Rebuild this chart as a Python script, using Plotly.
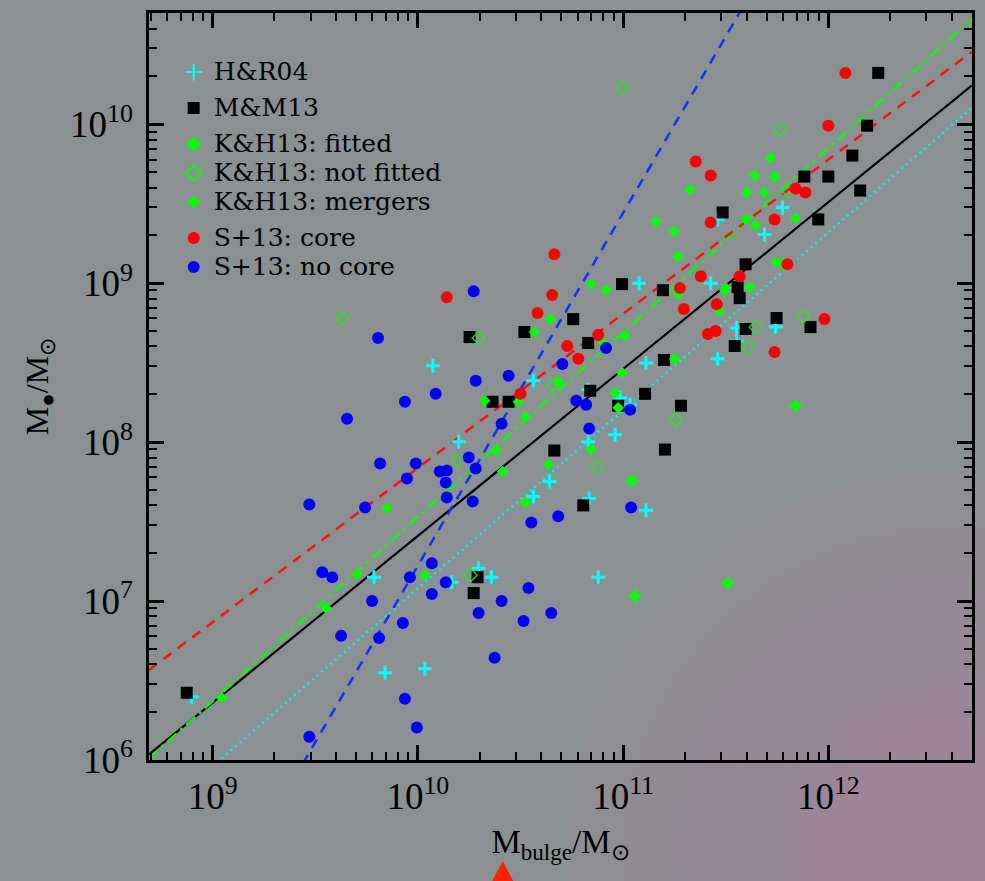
import numpy as np
import plotly.graph_objects as go

# ---------------- data (log10 values) ----------------
hr04_logmb = [8.898, 10.073, 10.199, 9.786, 9.840, 10.034, 10.165, 10.296, 10.359, 10.879,
              10.563, 10.830, 10.985, 11.034, 11.112, 11.461, 10.961, 10.830, 10.641, 10.563,
              10.835, 11.112, 11.078, 11.427, 11.461, 11.777, 11.689, 11.553, 11.743, 11.553]
hr04_logbh = [6.398, 8.480, 8.003, 7.150, 6.549, 6.574, 7.119, 7.207, 7.150, 7.150,
              8.386, 8.329, 8.279, 8.235, 8.498, 8.524, 8.047, 8.003, 7.752, 7.658,
              7.646, 7.571, 9.000, 9.000, 9.401, 9.476, 9.307, 8.718, 8.724, 8.636]

mm13_logmb = [8.874, 10.252, 10.291, 10.272, 10.995, 11.194, 10.757, 10.519, 10.830, 10.364,
              10.442, 11.199, 11.107, 10.976, 10.840, 11.282, 10.665, 11.204, 10.806, 11.485,
              11.883, 12.000, 12.117, 12.155, 12.189, 12.243, 11.951, 11.597, 11.558, 11.568,
              11.597, 11.544, 11.748, 11.913]
mm13_logbh = [6.423, 8.661, 7.150, 7.050, 8.994, 8.956, 8.774, 8.693, 8.624, 8.254,
              8.254, 8.517, 8.304, 8.229, 8.323, 8.229, 7.947, 7.953, 7.602, 9.445,
              9.671, 9.671, 9.803, 9.583, 9.991, 10.323, 9.401, 9.119, 8.975, 8.906,
              8.712, 8.605, 8.781, 8.724]

kh_fit_logmb = [9.044, 9.553, 9.704, 10.034, 9.850, 10.845, 10.917, 10.665, 10.646, 10.568,
                11.267, 11.471, 11.495, 11.010, 10.903, 10.995, 10.684, 10.325, 10.490, 10.524,
                10.961, 10.976, 11.252, 10.379, 10.413, 10.636, 10.845, 10.524, 11.160, 11.248,
                11.267, 11.325, 11.718, 11.641, 11.738, 11.602, 11.689, 11.597, 11.646, 11.840,
                11.748, 11.500, 11.617, 12.083]
kh_fit_logbh = [6.392, 6.956, 7.169, 7.163, 7.583, 8.994, 8.956, 8.931, 8.774, 8.693,
                8.931, 8.824, 8.956, 8.668, 8.624, 8.436, 8.379, 8.260, 8.254, 8.160,
                8.310, 8.216, 8.524, 7.947, 7.815, 7.859, 7.953, 7.621, 9.389, 9.326,
                9.169, 9.589, 9.790, 9.677, 9.671, 9.571, 9.571, 9.401, 9.364, 9.408,
                9.132, 8.969, 8.975, 10.323]

kh_nofit_logmb = [9.631, 10.194, 10.296, 10.257, 10.995, 10.660, 11.257, 10.874, 11.767, 11.806,
                  11.786, 12.083, 11.646, 11.607, 11.879]
kh_nofit_logbh = [8.781, 7.884, 8.655, 7.163, 10.229, 8.361, 8.141, 7.846, 9.966, 9.577,
                  9.119, 10.323, 8.724, 8.599, 8.793]

kh_merg_logmb = [11.044, 11.058, 11.510, 11.840]
kh_merg_logbh = [7.759, 7.031, 7.113, 8.229]

s13c_logmb = [10.141, 11.354, 11.427, 11.427, 10.665, 11.379, 11.277, 10.655, 10.583, 10.728,
              10.782, 10.879, 10.500, 11.296, 11.456, 11.413, 11.451, 12.000, 11.888, 11.840,
              11.738, 11.568, 11.801, 12.083, 11.981, 11.738]
s13c_logbh = [8.912, 9.765, 9.677, 9.382, 9.182, 9.044, 8.969, 8.925, 8.812, 8.605,
              8.524, 8.674, 8.304, 8.837, 8.868, 8.680, 8.699, 9.991, 9.571, 9.596,
              9.401, 9.044, 9.119, 10.323, 8.774, 8.567]

s13n_logmb = [10.272, 9.806, 10.282, 10.087, 9.937, 9.655, 9.816, 9.990, 10.248, 10.107,
              10.141, 9.947, 10.136, 10.282, 10.141, 9.471, 9.743, 10.267, 9.534, 9.583,
              9.961, 10.068, 10.136, 10.068, 9.777, 9.927, 9.626, 9.811, 9.937, 9.995,
              9.471, 10.296, 10.442, 10.704, 10.917, 10.408, 10.772, 10.820, 10.835, 11.034,
              10.553, 10.684, 11.039, 10.539, 10.408, 10.515, 10.650, 10.374]
s13n_logbh = [8.950, 8.655, 8.386, 8.304, 8.254, 8.147, 7.865, 7.865, 7.903, 7.815,
              7.821, 7.771, 7.746, 7.834, 7.652, 7.608, 7.589, 7.627, 7.182, 7.150,
              7.150, 7.238, 7.119, 7.044, 7.000, 6.862, 6.781, 6.768, 6.386, 6.204,
              6.147, 6.925, 8.417, 8.492, 8.592, 8.116, 8.260, 8.235, 8.085, 8.204,
              7.495, 7.533, 7.589, 7.082, 7.000, 6.875, 6.925, 6.643]

# fitted relations: log Mbh = a + b * (log Mbulge - pivot)
rel_names = ["H&R04", "M&M13", "K&H13", "S+13 core", "S+13 no core"]
rel_a = [8.20, 8.46, 8.69, 9.27, 7.89]
rel_b = [1.12, 1.05, 1.16, 0.97, 2.22]
rel_pivot = [11.0, 11.0, 11.0, 11.477, 10.301]

x_log_range = [8.69, 12.70]
y_log_range = [6.0, 10.70]
tick_exps_x = [9, 10, 11, 12]
tick_exps_y = [6, 7, 8, 9, 10]

# ---------------- figure ----------------
fig = go.Figure()


def p10(v):
    return [10 ** t for t in v]


def minor_vals(lo, hi):
    out = []
    for e in range(int(np.floor(lo)) - 1, int(np.ceil(hi)) + 1):
        for m in range(2, 10):
            out.append(m * 10.0 ** e)
    return out


def lname(s):
    return '<span style="font-size:25px">' + s + '</span>'


# relation lines
line_styles = [
    dict(color="#00f0f0", width=2.5, dash="2px,4px"),
    dict(color="#000000", width=2.2, dash="solid"),
    dict(color="#00ff00", width=2.5, dash="12px,5px,3px,5px"),
    dict(color="#ff1010", width=2.5, dash="10px,8px"),
    dict(color="#1030ff", width=2.5, dash="10px,8px"),
]
for a, b, p, st in zip(rel_a, rel_b, rel_pivot, line_styles):
    lx = np.linspace(x_log_range[0], x_log_range[1], 50)
    ly = a + b * (lx - p)
    fig.add_trace(go.Scatter(x=10 ** lx, y=10 ** ly, mode="lines", line=st,
                             showlegend=False, hoverinfo="skip"))

fig.add_trace(go.Scatter(x=p10(hr04_logmb), y=p10(hr04_logbh), mode="markers", name=lname("H&amp;R04"),
                         legendgroup="g1",
                         marker=dict(symbol="cross-thin", size=10, color="#00ffff",
                                     line=dict(color="#00ffff", width=3))))
fig.add_trace(go.Scatter(x=p10(mm13_logmb), y=p10(mm13_logbh), mode="markers", name=lname("M&amp;M13"),
                         legendgroup="g2",
                         marker=dict(symbol="square", size=12, color="#000000", line=dict(width=0))))
fig.add_trace(go.Scatter(x=p10(kh_fit_logmb), y=p10(kh_fit_logbh), mode="markers",
                         name=lname("K&amp;H13: fitted"), legendgroup="g3",
                         marker=dict(symbol="diamond", size=9, color="#00ff00", line=dict(width=0))))
fig.add_trace(go.Scatter(x=p10(kh_nofit_logmb), y=p10(kh_nofit_logbh), mode="markers",
                         name=lname("K&amp;H13: not fitted"), legendgroup="g3",
                         marker=dict(symbol="diamond-open", size=10, color="#00ff00",
                                     line=dict(color="#00ff00", width=1.2))))
fig.add_trace(go.Scatter(x=p10(kh_merg_logmb), y=p10(kh_merg_logbh), mode="markers",
                         name=lname("K&amp;H13: mergers"), legendgroup="g3",
                         marker=dict(symbol="star-diamond", size=12, color="#00ff00", line=dict(width=0))))
fig.add_trace(go.Scatter(x=p10(s13c_logmb), y=p10(s13c_logbh), mode="markers",
                         name=lname("S+13: core"), legendgroup="g4",
                         marker=dict(symbol="circle", size=12, color="#ff0000", line=dict(width=0))))
fig.add_trace(go.Scatter(x=p10(s13n_logmb), y=p10(s13n_logbh), mode="markers",
                         name=lname("S+13: no core"), legendgroup="g4",
                         marker=dict(symbol="circle", size=12, color="#0000ff", line=dict(width=0))))

# soft pink glow in the lower right of the page background
shapes = []
for r in [0.46, 0.39, 0.33, 0.27, 0.21, 0.16, 0.11]:
    cx, cy = 0.97, -0.12
    shapes.append(dict(type="circle", xref="paper", yref="paper", layer="below",
                       x0=cx - r, x1=cx + r, y0=cy - r * 1.1, y1=cy + r * 1.1,
                       fillcolor="rgba(200,125,170,0.065)", line=dict(width=0)))
# small red triangle below the x axis
shapes.append(dict(type="path", xref="paper", yref="paper", layer="above",
                   path="M 0.4298 -0.1355 L 0.4165 -0.163 L 0.4431 -0.163 Z",
                   fillcolor="#ff2200", line=dict(width=0)))

axis_common = dict(type="log", showgrid=False, zeroline=False, showline=True,
                   linecolor="black", linewidth=2.5, mirror="allticks",
                   ticks="inside", ticklen=15, tickwidth=2.5, tickcolor="black",
                   tickfont=dict(family="Liberation Serif", size=37, color="black"))

fig.update_layout(
    width=985, height=881,
    margin=dict(l=149, r=10, t=11, b=121),
    paper_bgcolor="#8b9092", plot_bgcolor="rgba(0,0,0,0)",
    shapes=shapes,
    showlegend=True,
    legend=dict(x=0.03, y=0.947, xanchor="left", yanchor="top",
                bgcolor="rgba(0,0,0,0)", borderwidth=0,
                traceorder="grouped", tracegroupgap=7, itemsizing="constant",
                font=dict(family="DejaVu Serif", size=20, color="black")),
    xaxis=dict(axis_common, range=x_log_range,
               tickvals=[10 ** e for e in tick_exps_x],
               ticktext=["10<sup>%d</sup>" % e for e in tick_exps_x],
               ticklabelstandoff=2,
               minor=dict(tickvals=minor_vals(*x_log_range), ticks="inside", ticklen=8,
                          tickwidth=2, tickcolor="black", showgrid=False),
               title=dict(text="M<sub>bulge</sub>/M<sub>⊙</sub>", standoff=14,
                          font=dict(family="Liberation Serif", size=33, color="black"))),
    yaxis=dict(axis_common, range=y_log_range,
               tickvals=[10 ** e for e in tick_exps_y],
               ticktext=["10<sup>%d</sup>" % e for e in tick_exps_y],
               ticklabelstandoff=6,
               minor=dict(tickvals=minor_vals(*y_log_range), ticks="inside", ticklen=8,
                          tickwidth=2, tickcolor="black", showgrid=False),
               title=dict(text="M<sub>●</sub>/M<sub>⊙</sub>", standoff=12,
                          font=dict(family="Liberation Serif", size=32, color="black"))),
)

fig.write_html("out.html")
